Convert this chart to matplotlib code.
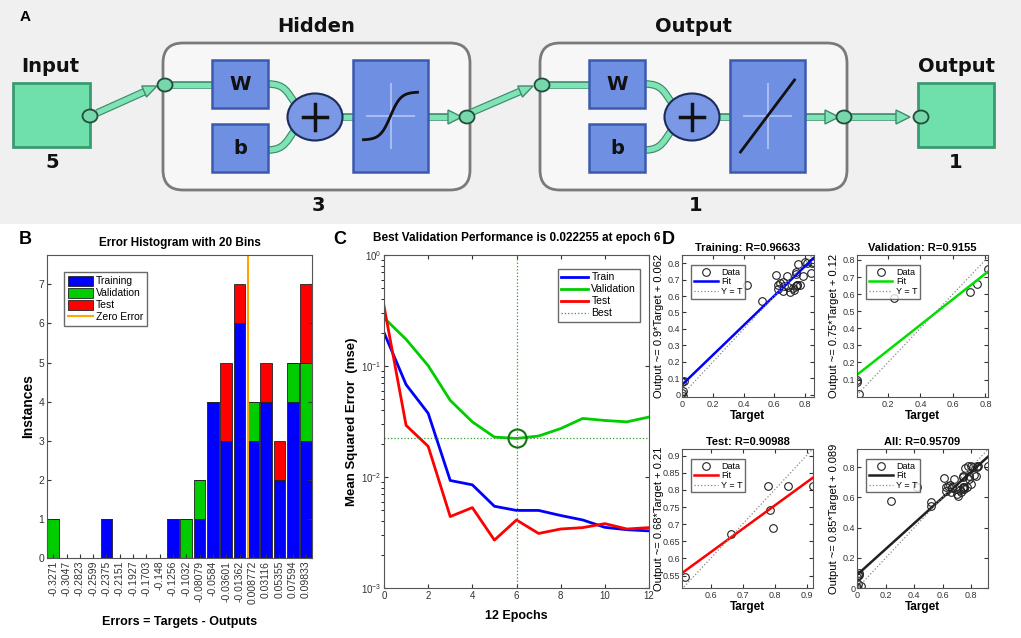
import numpy as np
import matplotlib
matplotlib.use('Agg')
import matplotlib.pyplot as plt
from matplotlib.patches import Rectangle, FancyBboxPatch, Ellipse, Polygon, PathPatch
from matplotlib.path import Path

plt.rcParams['font.family'] = ['Liberation Sans', 'DejaVu Sans']

# ---------------- panel B : error histogram ----------------
bin_centers = [-0.3271, -0.3047, -0.2823, -0.2599, -0.2375, -0.2151, -0.1927, -0.1703, -0.148,
               -0.1256, -0.1032, -0.08079, -0.0584, -0.03601, -0.01362, 0.008772, 0.03116,
               0.05355, 0.07594, 0.09833]
bin_labels = ['-0.3271', '-0.3047', '-0.2823', '-0.2599', '-0.2375', '-0.2151', '-0.1927',
              '-0.1703', '-0.148', '-0.1256', '-0.1032', '-0.08079', '-0.0584', '-0.03601',
              '-0.01362', '0.008772', '0.03116', '0.05355', '0.07594', '0.09833']
hist_train = [0, 0, 0, 0, 1, 0, 0, 0, 0, 1, 0, 1, 4, 3, 6, 3, 4, 2, 4, 3]
hist_val = [1, 0, 0, 0, 0, 0, 0, 0, 0, 0, 1, 1, 0, 0, 0, 1, 0, 0, 1, 2]
hist_test = [0, 0, 0, 0, 0, 0, 0, 0, 0, 0, 0, 0, 0, 2, 1, 0, 1, 1, 0, 2]

# ---------------- panel C : performance ----------------
epochs = list(range(13))
perf_train = [0.20, 0.068, 0.0375, 0.0093, 0.0085, 0.00545, 0.0050, 0.0050, 0.0045, 0.0041,
              0.00352, 0.00335, 0.00327]
perf_val = [0.271, 0.174, 0.1007, 0.049, 0.0314, 0.0229, 0.022255, 0.0234, 0.0273, 0.0337,
            0.0323, 0.0314, 0.0347]
perf_test = [0.347, 0.0292, 0.0189, 0.0044, 0.0053, 0.0027, 0.0041, 0.0031, 0.0034, 0.0035,
             0.0038, 0.0034, 0.0035]
best_epoch = 6
best_perf = 0.022255

# ---------------- panel D : regression ----------------
train_t = [0.0, 0.007, 0.006, 0.006, 0.0, 0.42, 0.517, 0.611, 0.622, 0.637, 0.654, 0.622,
           0.659, 0.68, 0.691, 0.702, 0.728, 0.741, 0.741, 0.746, 0.741, 0.757, 0.767, 0.785,
           0.80, 0.815, 0.843, 0.85, 0.837, 0.665, 0.72, 0.745]
train_y = [0.075, 0.085, 0.024, -0.006, 0.008, 0.667, 0.572, 0.728, 0.667, 0.677, 0.684, 0.643,
           0.633, 0.724, 0.653, 0.623, 0.637, 0.744, 0.734, 0.667, 0.663, 0.795, 0.667, 0.724,
           0.805, 0.799, 0.799, 0.805, 0.740, 0.66, 0.65, 0.67]
val_t = [0.023, 0.013, 0.013, 0.235, 0.708, 0.749, 0.817]
val_y = [0.014, 0.10, 0.086, 0.575, 0.611, 0.658, 0.748]
test_t = [0.52, 0.665, 0.778, 0.785, 0.795, 0.843, 0.92]
test_y = [0.545, 0.67, 0.81, 0.74, 0.69, 0.81, 0.81]

reg_titles = ['Training: R=0.96633', 'Validation: R=0.9155', 'Test: R=0.90988', 'All: R=0.95709']
reg_ylabels = ['Output ~= 0.9*Target + 0.062', 'Output ~= 0.75*Target + 0.12',
               'Output ~= 0.68*Target + 0.21', 'Output ~= 0.85*Target + 0.089']
reg_slope = [0.9, 0.75, 0.68, 0.85]
reg_icept = [0.062, 0.12, 0.21, 0.089]
reg_colors = ['#0000ff', '#00e000', '#ff0000', '#202020']

W, H = 1021, 638
fig = plt.figure(figsize=(W / 100, H / 100), dpi=100)


def px_axes(l, t, r, b):
    return fig.add_axes([l / W, 1 - b / H, (r - l) / W, (b - t) / H])


# ================= panel A : network diagram =================
axa = fig.add_axes([0, 1 - 224 / H, 1, 224 / H])
axa.set_xlim(0, W)
axa.set_ylim(224, 0)
axa.set_axis_off()
axa.add_patch(Rectangle((0, 0), W, 224, fc='#f0f0f0', ec='none', zorder=0))

mint, mint_dark = '#7fe3b6', '#3c8c6c'
blue, blue_dark = '#6f8fe3', '#3b5aae'


def conn(pts):
    xs, ys = zip(*pts)
    axa.plot(xs, ys, color=mint_dark, lw=5.5, solid_capstyle='butt', zorder=2)
    axa.plot(xs, ys, color=mint, lw=3.8, solid_capstyle='butt', zorder=3)


def head(tip, direction, L=14, w=6):
    d = np.array(direction, float)
    d = d / np.hypot(*d)
    n = np.array([-d[1], d[0]])
    tip = np.array(tip, float)
    base = tip - L * d
    axa.add_patch(Polygon([tip, base + w * n, base - w * n], closed=True, fc=mint, ec=mint_dark,
                          lw=1, zorder=4))


def node(x, y):
    axa.add_patch(Ellipse((x, y), 15, 13, fc='#78d6ab', ec='#1f4f3b', lw=1.3, zorder=5))


def curve(p0, c1, c2, p1):
    path = Path([p0, c1, c2, p1], [Path.MOVETO, Path.CURVE4, Path.CURVE4, Path.CURVE4])
    axa.add_patch(PathPatch(path, fc='none', ec=mint_dark, lw=5.5, zorder=2))
    axa.add_patch(PathPatch(path, fc='none', ec=mint, lw=3.8, zorder=3))


def bluebox(x0, y0, x1, y1, label=None):
    axa.add_patch(Rectangle((x0, y0), x1 - x0, y1 - y0, fc=blue, ec=blue_dark, lw=1.8, zorder=4))
    if label:
        axa.text((x0 + x1) / 2, (y0 + y1) / 2, label, ha='center', va='center', fontsize=14,
                 fontweight='bold', family='DejaVu Sans', color='#111111', zorder=6)


def greenbox(x0, y0, x1, y1):
    axa.add_patch(Rectangle((x0, y0), x1 - x0, y1 - y0, fc='#6fe0ab', ec='#3c9a70', lw=2, zorder=4))


def layer(x0, x1, title, size, transfer):
    axa.add_patch(FancyBboxPatch((x0, 43), x1 - x0, 147, boxstyle='round,pad=0,rounding_size=20',
                                 fc='#f7f7f7', ec='#7a7a7a', lw=2, zorder=1))
    axa.text((x0 + x1) / 2, 27, title, ha='center', va='center', fontsize=14, fontweight='bold',
             family='DejaVu Sans', color='#111111')
    axa.text((x0 + x1) / 2 + 2, 205, size, ha='center', va='center', fontsize=14,
             fontweight='bold', family='DejaVu Sans', color='#111111')
    node(x0 + 2, 85)
    conn([(x0 + 9, 85), (x0 + 49, 85)])
    bluebox(x0 + 49, 60, x0 + 105, 108, 'W')
    bluebox(x0 + 49, 124, x0 + 105, 172, 'b')
    cx = x0 + 152
    curve((x0 + 105, 84), (x0 + 122, 84), (cx - 28, 92), (cx - 20, 103))
    curve((x0 + 105, 150), (x0 + 122, 150), (cx - 28, 140), (cx - 20, 130))
    axa.add_patch(Ellipse((cx, 117), 55, 47, fc='#7b98e6', ec='#1c2c5a', lw=1.5, zorder=5))
    axa.plot([cx - 12, cx + 12], [117, 117], color='#111111', lw=2.5, zorder=6)
    axa.plot([cx, cx], [104, 130], color='#111111', lw=2.5, zorder=6)
    conn([(cx + 27, 117), (x0 + 190, 117)])
    tx0, tx1 = x0 + 190, x0 + 265
    bluebox(tx0, 60, tx1, 172)
    mx, my = (tx0 + tx1) / 2, 116
    axa.plot([tx0 + 14, tx1 - 14], [my, my], color='#a9bcf2', lw=1.5, zorder=5)
    axa.plot([mx, mx], [my - 32, my + 32], color='#a9bcf2', lw=1.5, zorder=5)
    if transfer == 'tansig':
        s = np.linspace(-1, 1, 60)
        axa.plot(mx + 27 * s, my - 24 * np.tanh(2.6 * s), color='#111111', lw=2, zorder=6)
    else:
        axa.plot([mx - 27, mx + 27], [my + 36, my - 36], color='#111111', lw=2, zorder=6)
    conn([(tx1, 117), (x1 - 15, 117)])
    head((x1 - 8, 117), (1, 0), L=14, w=7)
    node(x1 - 3, 117)


axa.text(25, 17, 'A', ha='center', va='center', fontsize=11, fontweight='bold')
greenbox(13, 83, 90, 147)
axa.text(50, 66, 'Input', ha='center', va='center', fontsize=14, fontweight='bold',
         family='DejaVu Sans', color='#111111')
axa.text(52, 163, '5', ha='center', va='center', fontsize=14, fontweight='bold',
         family='DejaVu Sans', color='#111111')
node(90, 116)
conn([(97, 113), (146, 91)])
head((157, 86), (61, -26))
layer(163, 470, 'Hidden', '3', 'tansig')
conn([(470, 113), (521, 91)])
head((533, 86), (63, -27))
layer(540, 847, 'Output', '1', 'purelin')
conn([(849, 117), (896, 117)])
head((910, 117), (1, 0), L=14, w=7)
greenbox(918, 83, 994, 147)
node(921, 117)
axa.text(956, 67, 'Output', ha='center', va='center', fontsize=14, fontweight='bold',
         family='DejaVu Sans', color='#111111')
axa.text(956, 163, '1', ha='center', va='center', fontsize=14, fontweight='bold',
         family='DejaVu Sans', color='#111111')


def matlab_style(ax, size=7.5):
    ax.tick_params(direction='in', labelsize=size, colors='#333333', length=3, pad=2,
                   top=True, right=True)
    for sp in ax.spines.values():
        sp.set_color('#555555')
        sp.set_linewidth(0.8)


# ================= panel B =================
axb = px_axes(47, 255, 312, 558)
binw = 0.02239
bw = binw * 0.88
tr = np.array(hist_train)
va = np.array(hist_val)
te = np.array(hist_test)
hb1 = axb.bar(bin_centers, tr, width=bw, color='#0000ff', edgecolor='#222222', lw=0.6)
hb2 = axb.bar(bin_centers, va, bottom=tr, width=bw, color='#00cc00', edgecolor='#222222', lw=0.6)
hb3 = axb.bar(bin_centers, te, bottom=tr + va, width=bw, color='#ff0000', edgecolor='#222222', lw=0.6)
hz = axb.axvline(0, color='#ffa500', lw=1.5)
axb.set_xlim(bin_centers[0] - 0.47 * binw, bin_centers[-1] + 0.45 * binw)
axb.set_ylim(0, 7.75)
axb.set_xticks(bin_centers)
axb.set_xticklabels(bin_labels, rotation=90)
axb.set_yticks(range(8))
matlab_style(axb)
axb.tick_params(axis='x', labelsize=7.5, top=False)
axb.legend([hb1, hb2, hb3, hz], ['Training', 'Validation', 'Test', 'Zero Error'],
           loc='upper left', fontsize=7.5, handlelength=2.4, handleheight=1.05, borderpad=0.35,
           labelspacing=0.15, handletextpad=0.3, fancybox=False, edgecolor='#444444',
           bbox_to_anchor=(0.045, 0.96))
axb.text(0.5, 1.04, 'Error Histogram with 20 Bins', transform=axb.transAxes, ha='center',
         va='center', fontsize=8.5, fontweight='bold')
axb.set_xlabel('Errors = Targets - Outputs', fontsize=9, fontweight='bold')
axb.xaxis.set_label_coords(0.5, -0.19)
axb.set_ylabel('Instances', fontsize=10, fontweight='bold')
axb.yaxis.set_label_coords(-0.045, 0.5)
fig.text(25 / W, 1 - 240 / H, 'B', ha='center', va='center', fontsize=13, fontweight='bold')

# ================= panel C =================
axc = px_axes(384, 255, 649, 588)
axc.semilogy(epochs, perf_train, color='#0000ff', lw=2, label='Train')
axc.semilogy(epochs, perf_val, color='#00cc00', lw=2, label='Validation')
axc.semilogy(epochs, perf_test, color='#ff0000', lw=2, label='Test')
axc.axhline(best_perf, color='#339933', lw=0.9, ls=':', label='Best')
axc.axvline(best_epoch, color='#339933', lw=0.9, ls=':')
axc.plot([best_epoch], [best_perf], marker='o', ms=13, mfc='none', mec='#117711', mew=1.5)
axc.set_xlim(0, 12)
axc.set_ylim(1e-3, 1e0)
axc.set_xticks(range(0, 13, 2))
matlab_style(axc, size=7)
axc.legend(loc='upper right', fontsize=7.5, handlelength=2.6, borderpad=0.35, labelspacing=0.2,
           handletextpad=0.3, fancybox=False, edgecolor='#444444', bbox_to_anchor=(0.985, 0.975))
axc.text(0.5, 1.05, 'Best Validation Performance is 0.022255 at epoch 6', transform=axc.transAxes,
         ha='center', va='center', fontsize=8.5, fontweight='bold')
axc.set_xlabel('12 Epochs', fontsize=9, fontweight='bold')
axc.xaxis.set_label_coords(0.5, -0.065)
axc.set_ylabel('Mean Squared Error  (mse)', fontsize=9.5, fontweight='bold')
axc.yaxis.set_label_coords(-0.1, 0.5)
fig.text(340 / W, 1 - 240 / H, 'C', ha='center', va='center', fontsize=13, fontweight='bold')

# ================= panel D =================
all_t = train_t + val_t + test_t
all_y = train_y + val_y + test_y
reg_data = [(train_t, train_y), (val_t, val_y), (test_t, test_y), (all_t, all_y)]
reg_boxes = [(681.7, 255, 813.5, 397), (856.5, 255, 988, 397),
             (681.7, 449, 813.3, 588), (856.7, 449, 988.3, 588)]
reg_lims = [((-0.005, 0.855), (-0.015, 0.85)), ((0.007, 0.816), (-0.002, 0.829)),
            ((0.51, 0.921), (0.514, 0.919)), ((-0.005, 0.92), (0.0, 0.92))]
reg_xticks = [[0, 0.2, 0.4, 0.6, 0.8], [0.2, 0.4, 0.6, 0.8], [0.6, 0.7, 0.8, 0.9],
              [0, 0.2, 0.4, 0.6, 0.8]]
reg_yticks = [[0, 0.1, 0.2, 0.3, 0.4, 0.5, 0.6, 0.7, 0.8], [0.1, 0.2, 0.3, 0.4, 0.5, 0.6, 0.7, 0.8],
              [0.55, 0.6, 0.65, 0.7, 0.75, 0.8, 0.85, 0.9], [0, 0.2, 0.4, 0.6, 0.8]]

for i in range(4):
    ax = px_axes(*reg_boxes[i])
    t, y = reg_data[i]
    (x0, x1), (y0, y1) = reg_lims[i]
    ax.plot(t, y, 'o', ms=5.5, mfc='none', mec='#222222', mew=0.8, label='Data')
    xs = np.array([x0, x1])
    ax.plot(xs, reg_slope[i] * xs + reg_icept[i], color=reg_colors[i], lw=1.8, label='Fit')
    ax.plot(xs, xs, ls=':', color='#888888', lw=0.9, label='Y = T')
    ax.set_xlim(x0, x1)
    ax.set_ylim(y0, y1)
    ax.set_xticks(reg_xticks[i])
    ax.set_yticks(reg_yticks[i])
    ax.set_xticklabels([('%g' % v) for v in reg_xticks[i]])
    ax.set_yticklabels([('%g' % v) for v in reg_yticks[i]])
    matlab_style(ax, size=6.5)
    ax.tick_params(axis='y', pad=1)
    ax.legend(loc='upper left', fontsize=6.5, handlelength=2.6, borderpad=0.3, labelspacing=0.05,
              handletextpad=0.4, fancybox=False, edgecolor='#444444', bbox_to_anchor=(0.04, 0.96))
    ax.text(0.5, 1.05, reg_titles[i], transform=ax.transAxes, ha='center', va='center',
            fontsize=8, fontweight='bold')
    ax.set_xlabel('Target', fontsize=8.5, fontweight='bold', labelpad=1)
    ax.set_ylabel(reg_ylabels[i], fontsize=8)
    ax.yaxis.set_label_coords(-0.135, 0.5)
fig.text(668 / W, 1 - 240 / H, 'D', ha='center', va='center', fontsize=13, fontweight='bold')

fig.savefig('out.png', dpi=100)
